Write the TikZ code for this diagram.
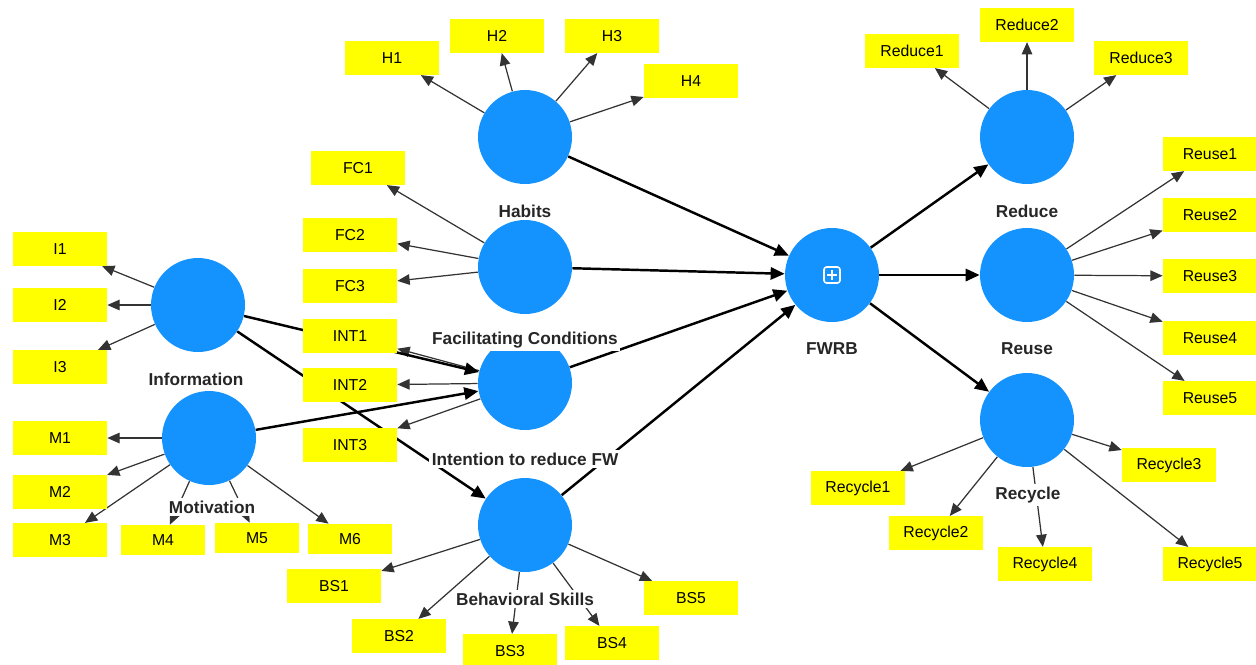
\documentclass[tikz,border=0pt]{standalone}
\usepackage{fontspec}
\setmainfont{Liberation Sans}
\usetikzlibrary{arrows.meta}
\definecolor{lvblue}{HTML}{1493FF}
\definecolor{mvyellow}{HTML}{FFFF00}
\pgfdeclarelayer{bg}
\pgfsetlayers{bg,main}

\begin{document}
\begin{tikzpicture}[
    x=0.02cm, y=-0.02cm,
    latent/.style={circle, fill=lvblue, minimum size=1.88cm, inner sep=0pt},
    manifest/.style={fill=mvyellow, minimum width=1.88cm, minimum height=0.67cm, inner sep=0pt, font=\fontsize{9}{10}\selectfont},
    smallmanifest/.style={manifest, minimum width=1.68cm, minimum height=0.6cm},
    lvname/.style={fill=white, inner sep=1.5pt, font=\bfseries\fontsize{9.8}{11}\selectfont, text=black!85},
    loading/.style={-{Triangle[length=7pt,width=6pt]}, line width=0.7pt, draw=black!80},
    relation/.style={-{Triangle[length=8pt,width=7pt]}, line width=1.4pt, black}
]
    \useasboundingbox (0,0) rectangle (1256,664);

    % Latent variables (constructs)
    \node[latent] (habits) at (525,137) {};
    \node[latent] (facil) at (525,267) {};
    \node[latent] (intent) at (525,383) {};
    \node[latent] (behav) at (525,525) {};
    \node[latent] (info) at (198,305) {};
    \node[latent] (motiv) at (209,438) {};
    \node[latent] (fwrb) at (832,275) {};
    \node[latent] (reduce) at (1027,137) {};
    \node[latent] (reuse) at (1027,275) {};
    \node[latent] (recycle) at (1027,420) {};

    % Higher-order marker on FWRB
    \draw[white, line width=0.9pt, rounded corners=1.5pt] ([shift={(-8,-8)}]fwrb.center) rectangle ([shift={(8,8)}]fwrb.center);
    \draw[white, line width=0.9pt] ([shift={(-5,0)}]fwrb.center) -- ([shift={(5,0)}]fwrb.center);
    \draw[white, line width=0.9pt] ([shift={(0,-5)}]fwrb.center) -- ([shift={(0,5)}]fwrb.center);

    % Indicators - Habits
    \node[manifest] (h1) at (392,58) {H1};
    \node[manifest] (h2) at (497,36) {H2};
    \node[manifest] (h3) at (612,36) {H3};
    \node[manifest] (h4) at (691,81) {H4};
    % Indicators - Facilitating Conditions
    \node[manifest] (fc1) at (358,168) {FC1};
    \node[manifest] (fc2) at (350,235) {FC2};
    \node[manifest] (fc3) at (350,286) {FC3};
    % Indicators - Intention
    \node[manifest] (int1) at (350,336) {INT1};
    \node[manifest] (int2) at (350,385) {INT2};
    \node[manifest] (int3) at (350,445) {INT3};
    % Indicators - Information
    \node[manifest] (i1) at (60,249) {I1};
    \node[manifest] (i2) at (60,305) {I2};
    \node[manifest] (i3) at (60,367) {I3};
    % Indicators - Motivation
    \node[manifest] (m1) at (60,438) {M1};
    \node[manifest] (m2) at (60,492) {M2};
    \node[manifest] (m3) at (60,540) {M3};
    \node[smallmanifest] (m4) at (163,540) {M4};
    \node[smallmanifest] (m5) at (257,538) {M5};
    \node[smallmanifest] (m6) at (350,539) {M6};
    % Indicators - Behavioral Skills
    \node[manifest] (bs1) at (334,586) {BS1};
    \node[manifest] (bs2) at (399,636) {BS2};
    \node[manifest] (bs3) at (510,651) {BS3};
    \node[manifest] (bs4) at (612,643) {BS4};
    \node[manifest] (bs5) at (691,598) {BS5};
    % Indicators - Reduce
    \node[manifest] (red1) at (912,51) {Reduce1};
    \node[manifest] (red2) at (1027,25) {Reduce2};
    \node[manifest] (red3) at (1141,58) {Reduce3};
    % Indicators - Reuse
    \node[manifest] (reu1) at (1210,154) {Reuse1};
    \node[manifest] (reu2) at (1210,215) {Reuse2};
    \node[manifest] (reu3) at (1210,276) {Reuse3};
    \node[manifest] (reu4) at (1210,338) {Reuse4};
    \node[manifest] (reu5) at (1210,398) {Reuse5};
    % Indicators - Recycle
    \node[manifest] (rec1) at (858,488) {Recycle1};
    \node[manifest] (rec2) at (936,533) {Recycle2};
    \node[manifest] (rec3) at (1169,465) {Recycle3};
    \node[manifest] (rec4) at (1045,564) {Recycle4};
    \node[manifest] (rec5) at (1210,564) {Recycle5};

    % Construct names
    \node[lvname] (lhabits) at (525,211) {Habits};
    \node[lvname] (lfacil) at (525,340) {Facilitating Conditions};
    \node[lvname] (lintent) at (525,459) {Intention to reduce FW};
    \node[lvname] (lbehav) at (525,599) {Behavioral Skills};
    \node[lvname] (linfo) at (196,379) {Information};
    \node[lvname] (lmotiv) at (212,507) {Motivation};
    \node[lvname] (lfwrb) at (832,349) {FWRB};
    \node[lvname] (lreduce) at (1027,211) {Reduce};
    \node[lvname] (lreuse) at (1027,349) {Reuse};
    \node[lvname] (lrecycle) at (1028,495) {Recycle};

    \begin{pgfonlayer}{bg}
    % Outer loadings
    \draw[loading] (habits) -- (h1);
    \draw[loading] (habits) -- (h2);
    \draw[loading] (habits) -- (h3);
    \draw[loading] (habits) -- (h4);
    \draw[loading] (facil) -- (fc1);
    \draw[loading] (facil) -- (fc2);
    \draw[loading] (facil) -- (fc3);
    \draw[loading] (intent) -- (int1);
    \draw[loading] (intent) -- (int2);
    \draw[loading] (intent) -- (int3);
    \draw[loading] (info) -- (i1);
    \draw[loading] (info) -- (i2);
    \draw[loading] (info) -- (i3);
    \draw[loading] (motiv) -- (m1);
    \draw[loading] (motiv) -- (m2);
    \draw[loading] (motiv) -- (m3);
    \draw[loading] (motiv) -- (m4);
    \draw[loading] (motiv) -- (m5);
    \draw[loading] (motiv) -- (m6);
    \draw[loading] (behav) -- (bs1);
    \draw[loading] (behav) -- (bs2);
    \draw[loading] (behav) -- (bs3);
    \draw[loading] (behav) -- (bs4);
    \draw[loading] (behav) -- (bs5);
    \draw[loading] (reduce) -- (red1);
    \draw[loading] (reduce) -- (red2);
    \draw[loading] (reduce) -- (red3);
    \draw[loading] (reuse) -- (reu1);
    \draw[loading] (reuse) -- (reu2);
    \draw[loading] (reuse) -- (reu3);
    \draw[loading] (reuse) -- (reu4);
    \draw[loading] (reuse) -- (reu5);
    \draw[loading] (recycle) -- (rec1);
    \draw[loading] (recycle) -- (rec2);
    \draw[loading] (recycle) -- (rec3);
    \draw[loading] (recycle) -- (rec4);
    \draw[loading] (recycle) -- (rec5);

    % Structural paths
    \draw[relation] (info) -- (intent);
    \draw[relation] (info) -- (behav);
    \draw[relation] (motiv) -- (intent);
    \draw[relation] (habits) -- (fwrb);
    \draw[relation] (facil) -- (fwrb);
    \draw[relation] (intent) -- (fwrb);
    \draw[relation] (behav) -- (fwrb);
    \draw[relation] (fwrb) -- (reduce);
    \draw[relation] (fwrb) -- (reuse);
    \draw[relation] (fwrb) -- (recycle);
    \end{pgfonlayer}

\end{tikzpicture}
\end{document}
